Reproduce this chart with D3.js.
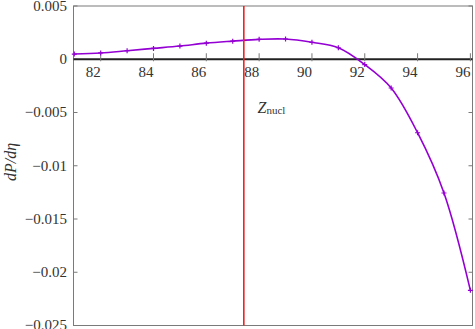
<!DOCTYPE html>
<html>
<head>
<meta charset="utf-8">
<script src="https://cdn.jsdelivr.net/npm/d3@7"></script>
<style>
  html, body { margin: 0; padding: 0; background: #fff; }
  svg { display: block; }
  svg text { font-family: "Liberation Serif", "Times New Roman", serif; }
</style>
</head>
<body>
<svg id="chart" width="475" height="329"></svg>
<script>
// Z values and the slope dP/deta
const zValues = [81, 82, 83, 84, 85, 86, 87, 88, 89, 90, 91, 92, 93, 94, 95, 96];
const slope = [0.00049, 0.00059, 0.0008, 0.00102, 0.00124, 0.00151, 0.0017, 0.00187,
  0.0019, 0.00159, 0.00108, -0.0005, -0.0027, -0.0069, -0.01256, -0.0217];
const zNucl = 87.42;

const xTicks = [82, 84, 86, 88, 90, 92, 94, 96];
const yTicks = [0.005, 0, -0.005, -0.01, -0.015, -0.02, -0.025];
const yTickLabels = ['0.005', '0', '\u22120.005', '\u22120.01', '\u22120.015', '\u22120.02', '\u22120.025'];

const svg = d3.select('#chart');
const mLeft = 73.5, mRight = 472.5, mTop = 6, mBottom = 325.5;

const x = d3.scaleLinear().domain([80.97, 96.08]).range([mLeft, mRight]);
const y = d3.scaleLinear().domain([0.005, -0.025]).range([mTop, mBottom]);

// frame
svg.append('rect')
  .attr('x', mLeft).attr('y', mTop)
  .attr('width', mRight - mLeft).attr('height', mBottom - mTop)
  .attr('fill', 'none').attr('stroke', '#7a7a7a').attr('stroke-width', 1);

// y ticks, left and right, pointing in
const yt = svg.append('g');
yTicks.forEach((v, i) => {
  yt.append('line').attr('x1', mLeft).attr('x2', mLeft + 4)
    .attr('y1', y(v)).attr('y2', y(v)).attr('stroke', '#7a7a7a');
  yt.append('line').attr('x1', mRight - 4).attr('x2', mRight)
    .attr('y1', y(v)).attr('y2', y(v)).attr('stroke', '#7a7a7a');
  yt.append('text')
    .attr('x', 67).attr('y', y(v)).attr('dy', '0.33em')
    .attr('text-anchor', 'end').attr('font-size', 15)
    .attr('fill', '#333')
    .text(yTickLabels[i]);
});

// zero axis with ticks and labels
svg.append('line')
  .attr('x1', mLeft).attr('x2', mRight)
  .attr('y1', y(0)).attr('y2', y(0))
  .attr('stroke', '#222').attr('stroke-width', 2);

const xt = svg.append('g');
xTicks.forEach((v) => {
  xt.append('line').attr('x1', x(v)).attr('x2', x(v))
    .attr('y1', y(0) - 6).attr('y2', y(0) + 2)
    .attr('stroke', '#7a7a7a');
  xt.append('text')
    .attr('x', x(v)).attr('y', y(0) + 17.5)
    .attr('text-anchor', 'end').attr('font-size', 15)
    .attr('fill', '#333')
    .text(v);
});

// curve
const pts = zValues.map((z, i) => [z, slope[i]]);
const line = d3.line()
  .x(d => x(d[0])).y(d => y(d[1]))
  .curve(d3.curveCatmullRom.alpha(0.5));

svg.append('path')
  .attr('d', line(pts))
  .attr('fill', 'none').attr('stroke', '#9400d3').attr('stroke-width', 1.6);

svg.append('g').selectAll('path')
  .data(pts)
  .join('path')
  .attr('d', d => `M${x(d[0]) - 2.5},${y(d[1])}h5M${x(d[0])},${y(d[1]) - 2.5}v5`)
  .attr('stroke', '#9400d3').attr('stroke-width', 1.2);

// nucleation line
svg.append('line')
  .attr('x1', x(zNucl)).attr('x2', x(zNucl))
  .attr('y1', mTop).attr('y2', mBottom)
  .attr('stroke', '#f02020').attr('stroke-width', 1.6);

const lab = svg.append('text').attr('x', 257.5).attr('y', 112.5)
  .attr('font-size', 16).attr('fill', '#333');
lab.append('tspan').attr('font-style', 'italic').text('Z');
lab.append('tspan').attr('font-size', 11).attr('dy', 1.5).text('nucl');

// y axis title
svg.append('text')
  .attr('transform', 'translate(16,162) rotate(-90)')
  .attr('text-anchor', 'middle').attr('font-size', 16)
  .attr('font-style', 'italic').attr('fill', '#333')
  .text('dP/d\u03b7');
</script>
</body>
</html>
